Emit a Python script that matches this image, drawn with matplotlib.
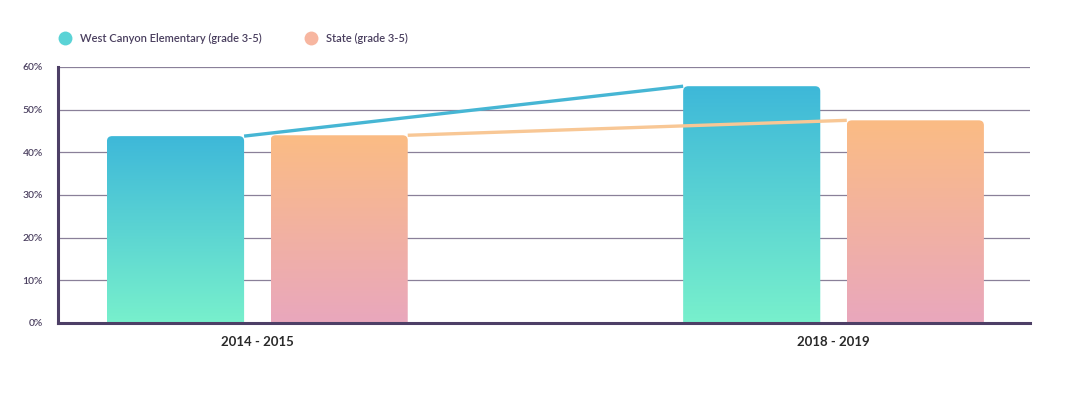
import numpy as np
import matplotlib
matplotlib.use("Agg")
import matplotlib.pyplot as plt
from matplotlib.colors import LinearSegmentedColormap
from matplotlib.patches import FancyBboxPatch

plt.rcParams['font.family'] = ['Lato', 'DejaVu Sans']

# data
periods = ["2014 - 2015", "2018 - 2019"]
series_names = ["West Canyon Elementary (grade 3-5)", "State (grade 3-5)"]
west = [43.8, 55.5]
state = [44.0, 47.5]
yticks = [0, 10, 20, 30, 40, 50, 60]

# styles
text_col = "#4a3f5f"
axis_col = "#4d3f66"
grid_col = "#8a8099"
west_grad = ("#3eb8d9", "#78f0cc")   # top, bottom
state_grad = ("#fbbc84", "#e9a7bd")
west_line = "#46b6d4"
state_line = "#f8c795"
bar_w = 0.238
offset = 0.142

fig = plt.figure(figsize=(10.8, 3.98), dpi=100)
ax = fig.add_axes([58 / 1080, 1 - 323 / 398, (1030 - 58) / 1080, (323 - 67) / 398])
x = np.arange(len(periods))
ax.set_xlim(-0.346, 1.341)
ax.set_ylim(0, 60)


def grad_bars(xs, vals, colors):
    cmap = LinearSegmentedColormap.from_list("g", [colors[1], colors[0]])
    grad = np.linspace(0, 1, 256).reshape(-1, 1)
    for xc, v in zip(xs, vals):
        # rounded top corners (~5px); bottom corners hidden below the axis
        patch = FancyBboxPatch((xc - bar_w / 2, -3), bar_w, v + 3,
                               boxstyle="round,pad=0,rounding_size=0.009",
                               mutation_aspect=130,
                               facecolor="none", edgecolor="none", zorder=2)
        ax.add_patch(patch)
        im = ax.imshow(grad, extent=(xc - bar_w / 2, xc + bar_w / 2, 0, v),
                       origin="lower", cmap=cmap, aspect="auto", zorder=2)
        im.set_clip_path(patch)


grad_bars(x - offset, west, west_grad)
grad_bars(x + offset, state, state_grad)

# connecting lines from bar edge to bar edge
ax.plot([x[0] - offset + bar_w / 2, x[1] - offset - bar_w / 2], west,
        color=west_line, lw=2.4, zorder=3, solid_capstyle="butt")
ax.plot([x[0] + offset + bar_w / 2, x[1] + offset - bar_w / 2], state,
        color=state_line, lw=2.4, zorder=3, solid_capstyle="butt")

ax.set_yticks(yticks)
ax.set_yticklabels([f"{t}%" for t in yticks], fontsize=7.5, color=text_col,
                   fontweight="semibold")
ax.set_xticks(x)
ax.set_xticklabels(periods, fontsize=9.5, fontweight="bold", color="#2a2a2a")
ax.tick_params(axis="both", length=0)
ax.tick_params(axis="y", pad=11)
ax.tick_params(axis="x", pad=9)

ax.yaxis.grid(True, color=grid_col, lw=0.9, zorder=1)
ax.set_axisbelow(True)
for s in ["top", "right"]:
    ax.spines[s].set_visible(False)
for s in ["left", "bottom"]:
    ax.spines[s].set_color(axis_col)
    ax.spines[s].set_linewidth(2.2)
    ax.spines[s].set_zorder(4)

# legend
lg = [(65, "#5ad3d6", series_names[0]), (311, "#f7b6a0", series_names[1])]
for px, col, name in lg:
    fig.lines.append(plt.Line2D([px / 1080], [1 - 38 / 398], marker="o",
                                markersize=10, markerfacecolor=col,
                                markeredgewidth=0, transform=fig.transFigure))
    fig.text((px + 15) / 1080, 1 - 38 / 398, name, fontsize=8, color=text_col,
             va="center", ha="left", fontweight="semibold")

fig.savefig("out.png", dpi=100)
